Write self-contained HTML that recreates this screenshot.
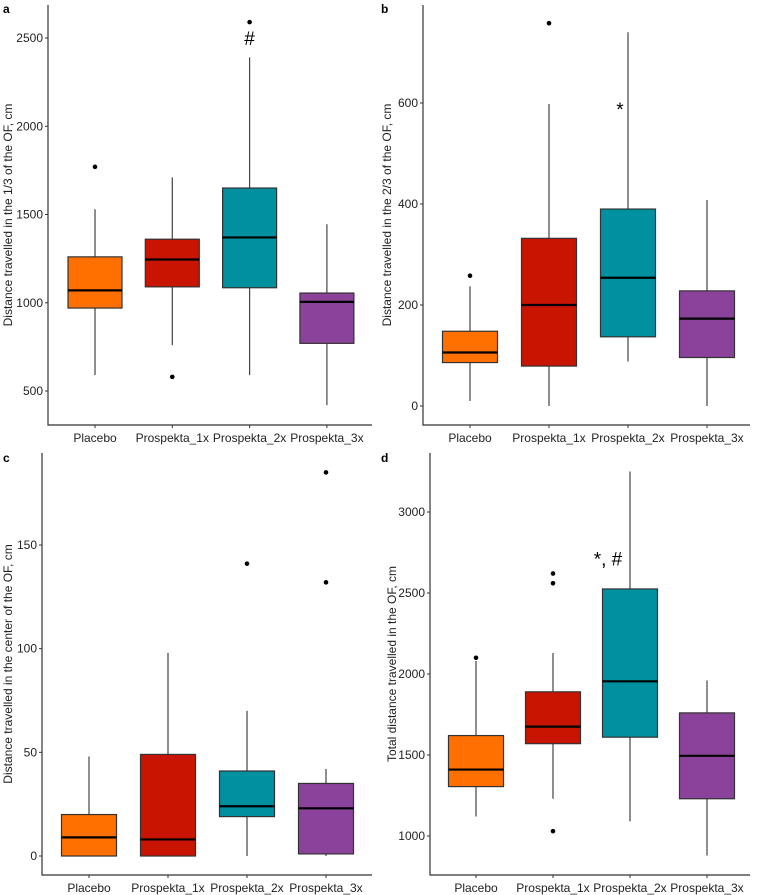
<!DOCTYPE html>
<html><head><meta charset="utf-8"><style>
body{margin:0;background:#fff;}
svg{display:block;font-family:"Liberation Sans",Arial,sans-serif;}
</style></head><body>
<svg id="fig" width="757" height="895" viewBox="0 0 757 895"></svg>
<script>
const categories=["Placebo","Prospekta_1x","Prospekta_2x","Prospekta_3x"];
const colors=["#FF7000","#C81400","#00909F","#8A429A"];
// [lowWhisker, q1, median, q3, highWhisker]
const statsA=[[590,970,1070,1260,1530],[760,1090,1245,1360,1710],[590,1085,1370,1650,2390],[420,770,1005,1055,1445]];
const outliersA=[[1770],[580],[2590],[]];
const statsB=[[10,86,106,148,237],[0,79,200,332,598],[88,137,254,390,740],[0,96,173,228,408]];
const outliersB=[[258],[758],[],[]];
const statsC=[[0,0,9,20,48],[0,0,8,49,98],[0,19,24,41,70],[0,1,23,35,42]];
const outliersC=[[],[],[141],[132,185]];
const statsD=[[1120,1305,1410,1620,2080],[1230,1570,1675,1890,2130],[1090,1610,1955,2525,3250],[880,1230,1495,1760,1960]];
const outliersD=[[2100],[1030,2560,2620],[],[]];
const ticksA=[500,1000,1500,2000,2500];
const ticksB=[0,200,400,600];
const ticksC=[0,50,100,150];
const ticksD=[1000,1500,2000,2500,3000];

const NS="http://www.w3.org/2000/svg";
const svg=document.getElementById('fig');
function mk(tag,attrs,parent,text){const e=document.createElementNS(NS,tag);for(const k in attrs)e.setAttribute(k,attrs[k]);if(text!==undefined)e.textContent=text;parent.appendChild(e);return e;}

const panels=[
 {id:"a",stats:statsA,out:outliersA,ticks:ticksA,ax:48,top:5,bot:425,right:372,v0:500,p0:391,v1:2500,p1:38,cx0:95,dx:77.3,bw:54,title:"Distance travelled in the 1/3 of the OF, cm",ann:[{t:"#",i:2,v:2505}],lx:3,ly:13,tx:12},
 {id:"b",stats:statsB,out:outliersB,ticks:ticksB,ax:423,top:5,bot:425,right:750,v0:0,p0:406,v1:600,p1:103,cx0:470,dx:79,bw:55,title:"Distance travelled in the 2/3 of the OF, cm",ann:[{t:"*",i:2,v:590,dxo:-8}],lx:381,ly:13,tx:391},
 {id:"c",stats:statsC,out:outliersC,ticks:ticksC,ax:42,top:453,bot:875,right:372,v0:0,p0:856,v1:150,p1:545,cx0:89,dx:79,bw:55,title:"Distance travelled in the center of the OF, cm",ann:[],lx:3,ly:462,tx:12},
 {id:"d",stats:statsD,out:outliersD,ticks:ticksD,ax:430,top:453,bot:875,right:750,v0:1000,p0:836,v1:3000,p1:512,cx0:476,dx:77,bw:55,title:"Total distance travelled in the OF, cm",ann:[{t:"*, #",i:2,v:2720,dxo:-22}],lx:381,ly:462,tx:396}
];

panels.forEach(P=>{
 const g=mk('g',{},svg);
 
 
 const y=v=>P.p0+(v-P.v0)*(P.p1-P.p0)/(P.v1-P.v0);
 const x=i=>P.cx0+i*P.dx;
 const lab=mk('text',{x:P.lx,y:P.ly,'font-size':12,'font-weight':'bold'},g,P.id);
 
 
 const axl=mk('path',{d:`M${P.ax},${P.top}V${P.bot}H${P.right}`,stroke:'#333',fill:'none','stroke-width':1.2},g);
 
 
 P.ticks.forEach(t=>{
  mk('line',{x1:P.ax-3,x2:P.ax,y1:y(t),y2:y(t),stroke:'#333'},g);
  const tl=mk('text',{x:P.ax-5,y:y(t)+4,'font-size':12,'text-anchor':'end',fill:'#222'},g,String(t));
  
  
 });
 const yt=mk('text',{transform:`translate(${P.tx},${(P.top+P.bot)/2}) rotate(-90)`,'font-size':12,'text-anchor':'middle',fill:'#222'},g,P.title);
 
 
 categories.forEach((c,i)=>{
  mk('line',{x1:x(i),x2:x(i),y1:P.bot,y2:P.bot+3,stroke:'#333'},g);
  const cl=mk('text',{x:x(i),y:P.bot+17,'font-size':12,'text-anchor':'middle',fill:'#222'},g,c);
  
  
  const s=P.stats[i];
  const wl=mk('line',{x1:x(i),x2:x(i),y1:y(s[0]),y2:y(s[4]),stroke:'#444','stroke-width':1.2},g);
  
  
  const bx=mk('rect',{x:x(i)-P.bw/2,y:y(s[3]),width:P.bw,height:y(s[1])-y(s[3]),fill:colors[i],stroke:'#333','stroke-width':1.2},g);
  
  
  const md=mk('line',{x1:x(i)-P.bw/2,x2:x(i)+P.bw/2,y1:y(s[2]),y2:y(s[2]),stroke:'#000','stroke-width':2.2},g);
  
  
  P.out[i].forEach(o=>{
   const d=mk('circle',{cx:x(i),cy:y(o),r:2.3,fill:'#000'},g);
   
   
  });
 });
 P.ann.forEach(a=>{
  const t=mk('text',{x:x(a.i)+(a.dxo||0),y:y(a.v)+8,'font-size':19,'text-anchor':'middle',fill:'#000'},g,a.t);
  
  
 });
});
</script>
</body></html>
